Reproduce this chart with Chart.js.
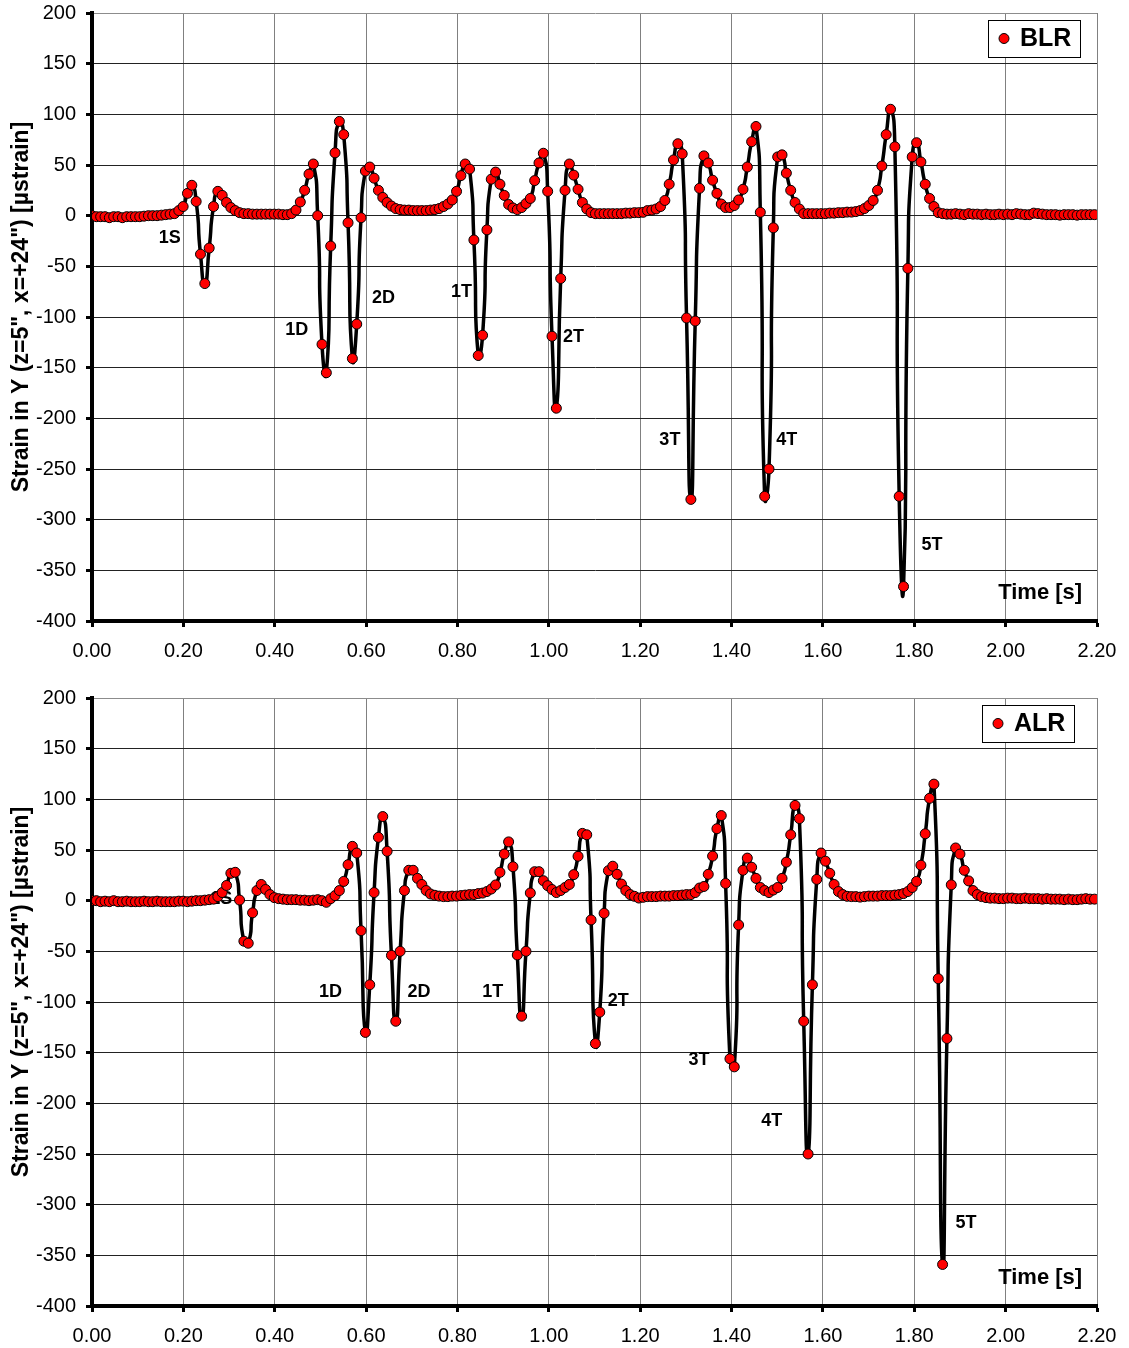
<!DOCTYPE html>
<html>
<head>
<meta charset="utf-8">
<script src="https://cdn.jsdelivr.net/npm/chart.js@4.4.0/dist/chart.umd.min.js"></script>
<style>
  html, body { margin: 0; padding: 0; background: #fff; }
  #wrap { position: relative; width: 1129px; height: 1348px; overflow: hidden; }
  canvas { position: absolute; left: 0; }
  #blr { top: 0; }
  #alr { top: 685px; }
</style>
</head>
<body>
<div id="wrap">
  <canvas id="blr" width="1129" height="663"></canvas>
  <canvas id="alr" width="1129" height="663"></canvas>
</div>
<script>
// sampling step of the strain record [s]
const DT = 0.0095;

// strain in Y, before load relocation (upper plot)
const blrStrain = [
  0, -1, -1, -1, -2, -1, -1, -2, -1, -1,
  -1, -1, -0.5, 0, 0, 0, 0.5, 1, 1.5, 2,
  5, 9, 22, 30, 14, -38, -67, -32, 9, 24,
  20, 13, 8, 5, 3, 2, 2, 1.5, 1.5, 1.5,
  1.5, 1.5, 1.5, 1.5, 1, 1, 2, 5.5, 13.5, 25,
  41, 51, 0, -127, -155, -30, 62, 93, 80, -7,
  -141, -107, -2, 44, 48, 37, 25, 18, 13, 9.5,
  7, 6, 5.5, 5.5, 5, 5, 5, 5, 5.5, 6,
  7, 9, 11.5, 15.5, 24, 39.5, 51, 46, -24, -138,
  -118, -14, 36, 43, 31, 20, 11, 7.6, 6, 8,
  12, 17, 34.6, 52, 61.6, 24, -119, -190, -62, 25,
  51, 40, 26, 13, 6.6, 3, 2, 2, 2, 2,
  2, 2, 2, 2.5, 2.5, 3, 3, 3.3, 5, 5.5,
  6.6, 9, 15, 31, 55, 71, 61, -101, -280, -104,
  27, 59, 52, 35, 22, 11.5, 8, 8, 10, 15.5,
  26, 48, 73, 88, 3.3, -277, -250, -12, 58, 60,
  42, 25, 13, 6.6, 2, 2, 2, 2, 2, 2,
  2.5, 2.5, 3, 3, 3.5, 3.5, 4, 5, 7, 10,
  15, 25, 49, 80, 105, 68, -277, -366, -52, 58,
  72, 53, 31, 17, 9, 3, 2, 1.5, 1.5, 2,
  1.5, 1, 2, 1.5, 1.5, 1, 1.5, 1, 1, 1.5,
  1, 1.5, 1, 2, 1.5, 1, 1, 2.5, 2, 1.5,
  1, 1, 1, 0.5, 1, 1, 1, 0.5, 1, 1,
  1, 1
];

// strain in Y, after load relocation (lower plot)
const alrStrain = [
  0, 0, -1, -0.5, -1, 0, -1, -1, -0.5, -1,
  -1, -1, -0.5, -1, -1, -0.5, -1, -1, -1, -1,
  -0.5, -0.5, -1, -0.5, 0, 0, 0.5, 1, 1.5, 4,
  8, 15, 27, 28, 0.6, -40, -42, -12, 10, 16,
  11, 6, 3, 2, 1.5, 1, 1, 1, 0.5, 0.5,
  0, 0.5, 1, 0, -1.6, 2, 5, 10, 19, 35.5,
  53.6, 47, -29.6, -130, -83, 8, 62.5, 83, 48.7, -54,
  -119, -50, 10, 30, 30, 22, 16, 10, 6.6, 5.3,
  4.5, 4, 4, 4.5, 4.5, 5, 5.5, 6, 6, 7,
  7.5, 9, 11.5, 15.5, 28, 46, 58, 33.5, -53.6, -114,
  -50, 7.6, 28.6, 28.6, 19.7, 14.8, 11, 8, 10, 13,
  16, 25.7, 43.8, 66.4, 65, -19, -141, -110, -12.5, 29.6,
  34, 26, 16.4, 10, 6, 4.3, 2.6, 3.3, 4, 4,
  4, 4.5, 4.5, 4.5, 5, 5, 5.5, 6, 6, 8,
  12.5, 14, 26, 44, 71, 84, 17, -156, -164, -24,
  30, 42, 33, 22, 13, 10, 8, 10.5, 13, 22,
  38, 65, 94, 81, -119, -250, -83, 21, 47, 39,
  27, 16, 9, 6, 4.3, 4, 4, 3.5, 4, 4.5,
  4.5, 4.5, 5, 5, 5, 5.5, 6, 7, 9, 13,
  19, 35, 66, 101, 115, -77, -359, -136, 15.6, 52,
  46, 30, 19.5, 10, 6, 4, 3, 2.5, 2.5, 2,
  2, 2.5, 2.5, 2, 2, 2.5, 2, 2, 2, 1.5,
  2, 1.5, 1.5, 1.5, 1, 1.5, 1, 1, 1.5, 2,
  1.5, 1.5
];

// axle event labels, placed in data units (time, strain)
const eventNames = ['1S', '1D', '2D', '1T', '2T', '3T', '4T', '5T'];
const blrEventT = [0.170, 0.448, 0.638, 0.809, 1.054, 1.265, 1.521, 1.839];
const blrEventV = [-22, -113, -81, -75, -120, -221, -221, -325];
const alrEventT = [0.283, 0.522, 0.716, 0.877, 1.152, 1.329, 1.488, 1.913];
const alrEventV = [2, -90, -90, -90, -99, -157, -217, -318];

const FONT = "'Liberation Sans', Arial, Helvetica, sans-serif";
const yTitle = 'Strain in Y (z=5", x=+24") [\u00b5strain]';

function toPoints(values) {
  return values.map((v, i) => ({ x: i * DT, y: v }));
}

// text labels drawn under the markers, like in the original sheet
const eventLabels = {
  id: 'eventLabels',
  beforeDatasetsDraw(chart, args, opts) {
    const { ctx, scales: { x, y } } = chart;
    ctx.save();
    ctx.fillStyle = '#000';
    ctx.textAlign = 'center';
    ctx.textBaseline = 'middle';
    ctx.font = 'bold 18px ' + FONT;
    opts.names.forEach((n, i) => {
      ctx.fillText(n, x.getPixelForValue(opts.t[i]), y.getPixelForValue(opts.v[i]));
    });
    ctx.font = 'bold 22px ' + FONT;
    ctx.fillText('Time [s]', x.getPixelForValue(2.0756), y.getPixelForValue(-372));

    // rotated y axis title, a bit above the middle of the plot
    const midY = (chart.chartArea.top + chart.chartArea.bottom) / 2 - 10;
    ctx.translate(22, midY);
    ctx.rotate(-Math.PI / 2);
    ctx.font = 'bold 23px ' + FONT;
    ctx.fillText(yTitle, 0, 0);
    ctx.restore();
  }
};

const boxLegend = {
  id: 'boxLegend',
  afterDraw(chart, args, opts) {
    const { ctx, chartArea } = chart;
    const ds = chart.data.datasets[0];
    ctx.save();
    ctx.font = 'bold 25px ' + FONT;
    const tw = ctx.measureText(ds.label).width;
    const w = Math.round(tw + 41), h = 37;
    const x0 = Math.round(chartArea.right - opts.right - w);
    const y0 = Math.round(chartArea.top + opts.top);
    ctx.fillStyle = '#fff';
    ctx.fillRect(x0, y0, w, h);
    ctx.strokeStyle = '#000';
    ctx.lineWidth = 1;
    ctx.strokeRect(x0 + 0.5, y0 + 0.5, w, h);
    ctx.beginPath();
    ctx.arc(x0 + 16, y0 + h / 2, 5, 0, Math.PI * 2);
    ctx.fillStyle = ds.pointBackgroundColor;
    ctx.fill();
    ctx.stroke();
    ctx.fillStyle = '#000';
    ctx.textAlign = 'left';
    ctx.textBaseline = 'middle';
    ctx.fillText(ds.label, x0 + 32, y0 + h / 2 + 1);
    ctx.restore();
  }
};

function makeChart(id, label, values, evT, evV, legendRight) {
  const ctx = document.getElementById(id).getContext('2d');
  return new Chart(ctx, {
    type: 'line',
    data: {
      datasets: [{
        label: label,
        data: toPoints(values),
        borderColor: '#000',
        borderWidth: 3.5,
        tension: 0.7,
        pointRadius: 5,
        pointBackgroundColor: '#ff0000',
        pointBorderColor: '#000',
        pointBorderWidth: 1,
        fill: false
      }]
    },
    options: {
      responsive: false,
      animation: false,
      events: [],
      layout: { padding: { top: 13, right: 32, left: 0, bottom: 0 } },
      plugins: {
        legend: { display: false },
        tooltip: { enabled: false },
        eventLabels: { names: eventNames, t: evT, v: evV },
        boxLegend: { right: legendRight, top: 7 }
      },
      scales: {
        x: {
          type: 'linear',
          min: 0,
          max: 2.2,
          ticks: {
            stepSize: 0.2,
            autoSkip: false,
            maxRotation: 0,
            padding: 12,
            color: '#000',
            font: { family: FONT, size: 20 },
            callback: v => v.toFixed(2)
          },
          grid: { color: '#808080', lineWidth: 1, tickLength: 6, tickColor: '#000', tickWidth: 3 },
          border: { color: '#000', width: 4 },
          afterFit: s => { s.height = 42; s.paddingLeft = 0; s.paddingRight = 0; }
        },
        y: {
          min: -400,
          max: 200,
          ticks: {
            stepSize: 50,
            padding: 10,
            color: '#000',
            font: { family: FONT, size: 20 }
          },
          grid: {
            color: c => (c.tick && c.tick.value === 200) ? '#8c8c8c' : '#222',
            lineWidth: 1, tickLength: 6, tickColor: '#000', tickWidth: 3
          },
          border: { color: '#000', width: 4 },
          afterFit: s => { s.width = 92; s.paddingTop = 0; s.paddingBottom = 0; }
        }
      }
    },
    plugins: [eventLabels, boxLegend]
  });
}

makeChart('blr', 'BLR', blrStrain, blrEventT, blrEventV, 17);
makeChart('alr', 'ALR', alrStrain, alrEventT, alrEventV, 23);
</script>
</body>
</html>
